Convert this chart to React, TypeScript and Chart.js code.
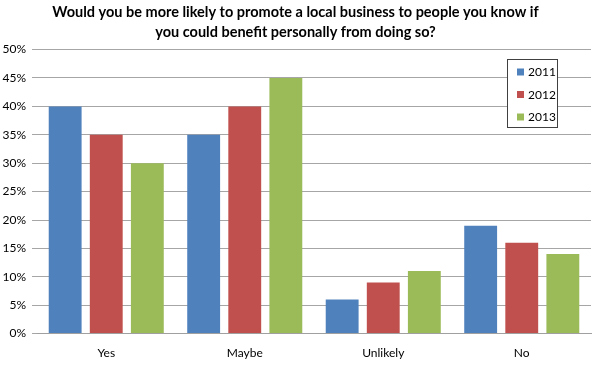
import React, { useEffect, useRef } from "react";
import { Chart, registerables } from "chart.js";

Chart.register(...registerables);

const categories = ["Yes", "Maybe", "Unlikely", "No"];
const seriesNames = ["2011", "2012", "2013"];
const values2011 = [40, 35, 6, 19];
const values2012 = [35, 40, 9, 16];
const values2013 = [30, 45, 11, 14];
const colors = ["#4F81BD", "#C0504D", "#9BBB59"];
const titleLines = [
  "Would you be more likely to promote a local business to people you know if",
  "you could benefit personally from doing so?",
];

const FONT = "Lato, 'Open Sans', sans-serif";

const boxLegend = {
  id: "boxLegend",
  afterDraw(chart: any) {
    const ctx = chart.ctx;
    const x = 507, y = 59, w = 50, h = 68;
    ctx.save();
    ctx.fillStyle = "#FFFFFF";
    ctx.fillRect(x, y, w, h);
    ctx.strokeStyle = "#404040";
    ctx.lineWidth = 1;
    ctx.strokeRect(x + 0.5, y + 0.5, w, h);
    ctx.font = "12px " + FONT;
    ctx.textBaseline = "middle";
    chart.data.datasets.forEach((ds: any, i: number) => {
      const cy = y + 13 + i * 22.5;
      ctx.fillStyle = ds.backgroundColor;
      ctx.fillRect(x + 10, cy - 3.5, 7, 7);
      ctx.fillStyle = "#000000";
      ctx.fillText(ds.label, x + 21, cy + 0.5);
    });
    ctx.restore();
  },
};

export default function App() {
  const ref = useRef<HTMLCanvasElement>(null);
  useEffect(() => {
    if (!ref.current) return;
    const data = [values2011, values2012, values2013];
    const chart = new Chart(ref.current, {
      type: "bar",
      data: {
        labels: categories,
        datasets: seriesNames.map((n, i) => ({
          label: n,
          data: data[i],
          backgroundColor: colors[i],
          borderWidth: 0,
          categoryPercentage: 0.89,
          barPercentage: 0.8,
        })),
      },
      options: {
        animation: false,
        responsive: false,
        maintainAspectRatio: false,
        layout: { padding: { left: 0, right: 9, top: 0, bottom: 4 } },
        plugins: {
          legend: { display: false },
          tooltip: { enabled: false },
          title: {
            display: true,
            text: titleLines,
            color: "#000000",
            font: { family: FONT, size: 14.5, weight: "bold", lineHeight: 1.4 },
            padding: { top: 2, bottom: 7 },
          },
        },
        scales: {
          x: {
            grid: { display: false, drawTicks: false },
            border: { display: true, color: "#A0A0A0", width: 1 },
            ticks: { color: "#000000", font: { family: FONT, size: 12 }, padding: 12 },
          },
          y: {
            min: 0,
            max: 50,
            afterFit(s: any) { s.width = 37; },
            grid: { color: "#A6A6A6", tickLength: 5, drawTicks: true },
            border: { display: false },
            ticks: {
              stepSize: 5,
              padding: 6,
              color: "#000000",
              font: { family: FONT, size: 12 },
              callback: (v: any) => v + "%",
            },
          },
        },
      },
      plugins: [boxLegend],
    });
    return () => chart.destroy();
  }, []);
  return (
    <div style={{ position: "fixed", left: 0, top: 0, width: 600, height: 376, background: "#fff" }}>
      <canvas ref={ref} width={600} height={376} style={{ display: "block" }} />
    </div>
  );
}
